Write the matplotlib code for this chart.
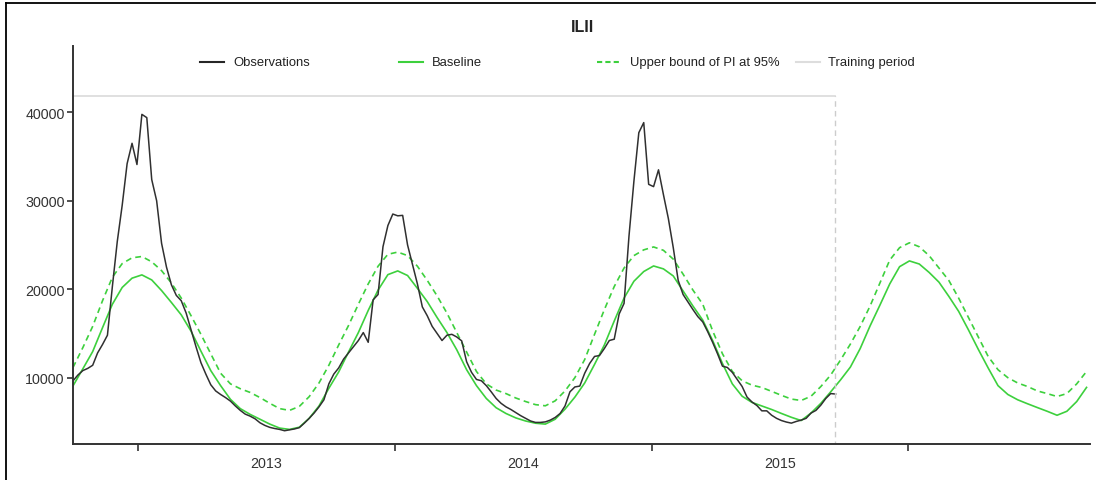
import matplotlib
matplotlib.use("Agg")
import matplotlib.pyplot as plt
from matplotlib.lines import Line2D

plt.rcParams['font.family'] = ['Liberation Sans', 'DejaVu Sans']

# weekly observations (week 0 = start of the series, ~Oct 2012)
obs = [9640, 10300, 10800, 11050, 11400, 12800, 13750, 14800, 20300, 25400,
       29500, 34200, 36500, 34100, 39770, 39400, 32400, 30000, 25200, 22500,
       20500, 19300, 18700, 17300, 15400, 13500, 11700, 10400, 9200, 8500,
       8100, 7750, 7350, 6800, 6300, 5880, 5650, 5350, 4900, 4600,
       4380, 4250, 4150, 4000, 4100, 4200, 4350, 4850, 5400, 6000,
       6700, 7500, 9300, 10400, 11100, 12100, 12800, 13500, 14200, 15100,
       14000, 18800, 19400, 24800, 27200, 28500, 28300, 28350, 25000, 22800,
       20600, 18000, 17000, 15800, 15000, 14200, 14800, 14900, 14600, 14160,
       11800, 10600, 9800, 9650, 9100, 8400, 7650, 7100, 6700, 6400,
       6050, 5700, 5400, 5100, 4940, 4940, 5000, 5200, 5500, 5950,
       6800, 8400, 8950, 9050, 10500, 11600, 12400, 12500, 13300, 14200,
       14350, 17200, 18400, 26000, 32200, 37700, 38840, 31860, 31600, 33500,
       30700, 28000, 24700, 21000, 19400, 18550, 17700, 16900, 16300, 15200,
       14000, 12700, 11300, 11150, 10600, 9800, 9000, 7800, 7250, 6850,
       6250, 6250, 5750, 5400, 5150, 4980, 4860, 5050, 5200, 5400,
       6000, 6300, 6900, 7650, 8200, 8150]
obs_weeks = list(range(len(obs)))

# baseline and upper bound, read every 2 weeks
fit_weeks = list(range(0, 208, 2))
baseline = [9070, 11000, 12950, 15650, 18300, 20200, 21250, 21620, 21050, 19850,
            18500, 17100, 15250, 13000, 10800, 9100, 7550, 6500, 5850, 5300,
            4750, 4300, 4150, 4400, 5400, 6800, 8800, 10650, 12900, 15100,
            17600, 19900, 21650, 22070, 21550, 20100, 18600, 16800, 15100, 13150,
            10900, 9100, 7650, 6600, 5950, 5450, 5100, 4850, 4750, 5300,
            6440, 7800, 9400, 11500, 13700, 16400, 19000, 20900, 22000, 22630,
            22300, 21500, 19800, 18100, 16500, 14200, 11600, 9300, 7900, 7200,
            6800, 6400, 5950, 5520, 5150, 6000, 7100, 8400, 9750, 11200,
            13300, 15850, 18200, 20600, 22550, 23200, 22850, 21900, 20800, 19200,
            17500, 15400, 13200, 11100, 9100, 8100, 7500, 7050, 6620, 6200,
            5750, 6200, 7300, 8900]
upper = [11150, 13400, 15800, 18700, 21350, 22900, 23550, 23700, 23100, 22100,
         20700, 19000, 17000, 14900, 12700, 10500, 9300, 8750, 8330, 7750,
         7100, 6500, 6300, 6750, 7850, 9400, 11400, 13700, 15900, 18300,
         20600, 22600, 23950, 24200, 23800, 22600, 21000, 19250, 17300, 15100,
         12900, 10700, 9300, 8600, 8200, 7700, 7300, 6950, 6820, 7380,
         8500, 10000, 12050, 14900, 17700, 20300, 22400, 23800, 24450, 24780,
         24400, 23400, 21700, 19900, 18300, 15300, 12700, 10700, 9650, 9150,
         8890, 8450, 8000, 7580, 7420, 7900, 9000, 10300, 12000, 13800,
         15800, 18100, 20700, 23300, 24700, 25250, 24800, 23800, 22400, 21000,
         19000, 16800, 14600, 12400, 10900, 10000, 9400, 9000, 8500, 8200,
         7870, 8200, 9300, 10700]

training_end = 154.9
training_top = 41800

year_starts = [13.2, 65.4, 117.6, 169.8]
year_labels = ['2013', '2014', '2015']
year_mids = [39.3, 91.5, 143.7]

legend_labels = ['Observations', 'Baseline', 'Upper bound of PI at 95%', 'Training period']

W, H = 1101, 481
fig = plt.figure(figsize=(W / 100, H / 100), dpi=100)
ax = fig.add_axes([73 / W, 1 - 445 / H, (1090 - 73) / W, (445 - 47) / H])

green = '#3dd03d'
ax.plot(fit_weeks, upper, color=green, lw=1.2, ls=(0, (3.5, 2.5)))
ax.plot(fit_weeks, baseline, color=green, lw=1.2)
ax.plot(obs_weeks, obs, color='#303030', lw=1.1)

# training period box
ax.plot([0, training_end], [training_top, training_top], color='#dddddd', lw=1.3)
ax.plot([training_end, training_end], [0, training_top], color='#cccccc', lw=1.0,
        ls=(0, (4, 3)))

ax.set_xlim(0, 206.7)
ax.set_ylim(2500, 47500)

for s in ['top', 'right']:
    ax.spines[s].set_visible(False)
for s in ['left', 'bottom']:
    ax.spines[s].set_linewidth(1.4)
    ax.spines[s].set_color('#333333')

ax.set_yticks([10000, 20000, 30000, 40000])
ax.set_yticklabels(['10000', '20000', '30000', '40000'])
ax.set_xticks(year_starts)
ax.set_xticklabels([])
ax.set_xticks(year_mids, minor=True)
ax.set_xticklabels(year_labels, minor=True)
ax.tick_params(axis='x', which='major', length=5, width=1.2, color='#333333')
ax.tick_params(axis='x', which='minor', length=0, pad=9, labelsize=10.3, labelcolor='#333333')
ax.tick_params(axis='y', length=4, width=1.2, color='#333333', labelsize=10.3,
               labelcolor='#333333', pad=2)

fig.text(583 / W, 1 - 28 / H, 'ILII', ha='center', va='center', fontsize=11.5,
         fontweight='bold', color='#222222')

# legend row, fixed width cells like the original
styles = [dict(color='#262626', lw=1.5),
          dict(color=green, lw=1.5),
          dict(color=green, lw=1.5, ls=(0, (2.5, 1.5))),
          dict(color='#dddddd', lw=1.5)]
ly = 1 - 63 / H
for i, lab in enumerate(legend_labels):
    x0 = 200 + 198.5 * i
    fig.add_artist(Line2D([x0 / W, (x0 + 24) / W], [ly, ly], **styles[i]))
    fig.text((x0 + 33) / W, ly, lab, ha='left', va='center', fontsize=9.4, color='#222222')

# frame of the exported figure
fig.add_artist(Line2D([6 / W, 6 / W], [0, 1 - 4 / H], color='black', lw=1.3))
fig.add_artist(Line2D([6 / W, 1095 / W], [1 - 4 / H, 1 - 4 / H], color='black', lw=1.3))

fig.savefig('out.png', dpi=100)
